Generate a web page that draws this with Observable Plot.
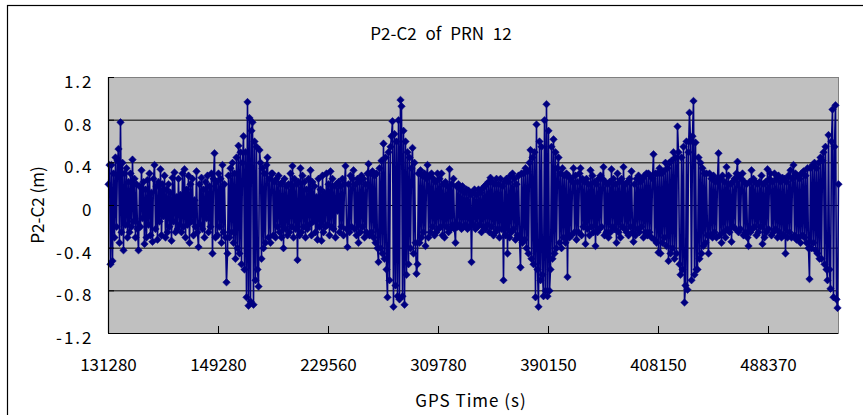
<!DOCTYPE html>
<html>
<head>
<meta charset="utf-8">
<script src="https://cdn.jsdelivr.net/npm/d3@7"></script>
<script src="https://cdn.jsdelivr.net/npm/@observablehq/plot@0.6"></script>
<style>
  html, body { margin: 0; padding: 0; background: #fff; }
</style>
</head>
<body>
<div id="chart"></div>
<script>
const chartTitle = "P2-C2 of PRN 12";
const yTitle = "P2-C2 (m)";
const xTitle = "GPS Time (s)";

const xLabels = ["131280", "149280", "229560", "309780", "390150", "408150", "488370"];
const labelEvery = 110; // category interval between x labels

const yTicks = [-1.2, -0.8, -0.4, 0, 0.4, 0.8, 1.2];
const yTickLabels = ["-1.2", "-0.8", "-0.4", "0", "0.4", "0.8", "1.2"];
const yGrid = [-0.8, -0.4, 0, 0.4, 0.8];

const p2c2 = [
  0.2, 0.38, -0.55, 0.38, -0.52, 0.3, -0.3, 0.45, -0.2, 0.42,
  0.53, -0.35, 0.78, -0.25, 0.4, -0.42, 0.3, -0.18, 0.35, -0.3,
  0.22, -0.25, 0.3, -0.2, 0.43, -0.15, 0.25, -0.3, 0.2, -0.22,
  -0.42, 0.18, -0.2, 0.33, -0.12, 0.22, -0.36, 0.15, -0.3, 0.24,
  -0.18, 0.3, -0.28, 0.12, -0.34, 0.25, 0.38, -0.22, 0.18, -0.32,
  0.22, -0.15, 0.34, -0.28, 0.2, -0.1, 0.28, -0.3, 0.15, -0.25,
  0.2, -0.2, 0.12, -0.33, 0.26, -0.15, 0.31, -0.25, 0.08, -0.22,
  0.25, -0.18, 0.1, -0.25, 0.3, -0.2, 0.34, -0.3, 0.15, -0.18,
  0.28, -0.35, 0.2, -0.15, 0.25, -0.28, 0.05, -0.2, 0.32, -0.25,
  -0.39, 0.2, -0.18, 0.26, -0.22, 0.15, -0.3, 0.22, -0.12, 0.28,
  -0.25, 0.18, -0.2, 0.3, -0.45, 0.25, 0.49, -0.3, 0.22, -0.28,
  0.3, -0.2, 0.25, -0.35, 0.38, -0.25, 0.2, -0.3, -0.72, -0.45,
  0.28, -0.3, 0.35, -0.25, 0.4, -0.35, 0.3, -0.5, 0.45, -0.4,
  0.56, -0.45, 0.5, -0.55, 0.4, 0.65, -0.6, 0.5, -0.86, 0.97,
  -0.94, 0.82, -0.9, 0.7, 0.78, -0.93, 0.6, -0.7, 0.55, -0.6,
  -0.76, 0.52, 0.4, -0.5, 0.35, -0.4, 0.3, -0.35, 0.38, 0.45,
  -0.3, 0.25, -0.35, 0.3, 0.3, -0.28, 0.22, -0.3, 0.25, -0.2,
  0.28, -0.25, 0.2, -0.3, 0.22, -0.4, 0.25, -0.22, 0.18, -0.28,
  0.2, -0.25, 0.3, -0.2, 0.37, -0.3, 0.25, -0.22, 0.2, -0.51,
  0.22, -0.28, 0.35, -0.25, 0.28, -0.2, 0.22, -0.3, 0.15, -0.22,
  0.25, -0.18, 0.33, -0.28, 0.22, -0.15, 0.18, -0.25, 0.08, -0.32,
  0.25, -0.2, 0.15, -0.33, 0.28, -0.25, 0.12, -0.2, 0.3, -0.18,
  0.2, -0.28, 0.32, -0.2, 0.25, -0.22, 0.18, -0.3, 0.2, -0.05,
  0.22, -0.25, 0.18, -0.2, 0.25, -0.28, 0.2, 0.37, -0.22, -0.39,
  0.2, -0.25, 0.28, -0.2, 0.25, 0.33, -0.22, 0.2, -0.28, 0.25,
  -0.35, 0.22, -0.25, 0.28, -0.2, 0.25, -0.3, 0.2, -0.25, 0.3,
  0.39, -0.28, 0.3, -0.25, 0.32, -0.3, 0.28, -0.35, 0.3, -0.4,
  -0.53, 0.35, -0.4, 0.42, -0.45, 0.58, -0.5, 0.45, -0.6, -0.86,
  0.5, -0.7, 0.55, 0.65, 0.79, -0.95, 0.67, -0.75, 0.6, -0.85,
  0.8, -0.88, 0.99, 0.93, -0.85, 0.7, -0.93, 0.6, -0.65, 0.5,
  -0.55, 0.45, -0.4, 0.35, 0.54, -0.45, 0.4, -0.35, -0.64, -0.55,
  0.3, -0.35, 0.33, -0.3, 0.28, -0.25, 0.3, -0.38, 0.25, 0.38,
  -0.3, 0.28, -0.25, 0.3, -0.2, 0.25, -0.28, 0.22, -0.25, 0.3,
  -0.22, 0.25, -0.2, 0.3, -0.28, 0.2, -0.3, 0.22, -0.2, 0.18,
  -0.25, 0.34, -0.22, 0.2, -0.18, 0.25, -0.22, -0.35, 0.18, -0.2,
  0.2, -0.18, 0.15, -0.22, 0.18, -0.2, 0.12, -0.18, 0.15, -0.22,
  0.14, -0.2, 0.1, -0.53, 0.12, -0.18, 0.15, -0.22, 0.1, -0.2,
  0.15, -0.18, 0.12, -0.25, 0.16, -0.2, 0.18, -0.22, 0.2, -0.18,
  0.22, -0.25, 0.26, -0.2, 0.22, -0.28, 0.2, -0.25, 0.25, -0.22,
  0.2, -0.3, 0.25, -0.22, 0.18, -0.7, 0.22, -0.28, 0.25, -0.45,
  0.22, -0.3, 0.28, -0.25, 0.3, -0.22, 0.25, -0.32, 0.2, -0.28,
  0.28, -0.3, -0.58, 0.3, -0.35, 0.3, -0.32, 0.35, -0.4, 0.32,
  -0.45, 0.4, 0.52, -0.5, 0.45, -0.55, 0.5, -0.86, 0.76, -0.6,
  -0.95, 0.6, -0.7, 0.55, -0.65, -0.85, 0.8, -0.8, 0.95, -0.85,
  0.7, -0.8, -0.6, 0.55, -0.5, 0.62, -0.45, 0.5, -0.4, 0.35,
  0.45, -0.35, 0.3, -0.4, 0.35, -0.3, 0.28, -0.35, 0.3, -0.67,
  0.28, -0.3, 0.25, -0.28, 0.22, 0.35, -0.25, 0.28, -0.32, 0.22,
  -0.25, 0.3, 0.35, -0.28, 0.25, -0.2, 0.22, -0.36, 0.25, -0.22,
  0.2, -0.28, 0.33, -0.2, 0.28, -0.25, 0.22, -0.38, 0.2, -0.25,
  0.25, -0.22, 0.28, -0.2, 0.25, 0.36, -0.28, 0.22, -0.25, 0.2,
  -0.3, 0.22, -0.25, 0.34, -0.2, 0.25, -0.22, 0.2, -0.35, 0.3,
  -0.25, 0.22, -0.3, 0.25, -0.2, 0.36, -0.22, 0.2, -0.25, 0.22,
  -0.28, 0.25, -0.2, 0.32, -0.25, -0.34, 0.2, -0.28, 0.25, -0.22,
  0.28, -0.25, 0.22, -0.2, 0.25, -0.3, 0.28, -0.25, 0.3, -0.28,
  0.3, -0.25, 0.28, -0.3, 0.25, 0.48, -0.32, 0.3, -0.35, 0.3,
  -0.44, 0.35, -0.45, 0.3, -0.35, 0.32, -0.3, 0.4, -0.38, 0.35,
  -0.52, 0.4, -0.45, 0.42, -0.4, 0.5, -0.5, 0.45, -0.45, 0.74,
  0.5, -0.55, -0.65, 0.45, -0.6, 0.55, -0.91, -0.75, 0.6, -0.79,
  0.5, 0.87, 0.6, -0.7, 0.65, 0.98, -0.65, 0.59, -0.6, -0.6,
  0.45, -0.5, 0.4, -0.45, 0.35, -0.38, 0.3, -0.35, 0.3, -0.28,
  -0.45, 0.3, -0.28, 0.25, -0.3, 0.28, -0.25, 0.22, -0.3, 0.25,
  0.49, -0.28, 0.25, -0.35, 0.28, -0.25, 0.22, -0.3, 0.36, -0.22,
  0.28, -0.25, 0.2, -0.34, 0.22, -0.2, 0.25, -0.22, 0.3, 0.41,
  -0.25, 0.28, -0.22, 0.25, 0.3, -0.28, 0.22, -0.25, 0.2, -0.3,
  -0.38, 0.22, -0.25, 0.33, -0.22, 0.25, -0.2, 0.22, -0.28, 0.2,
  -0.25, 0.22, -0.2, 0.28, -0.36, 0.2, -0.3, 0.22, -0.25, 0.34,
  -0.22, 0.25, 0.3, -0.28, 0.22, -0.25, 0.3, -0.22, 0.25, -0.3,
  0.28, -0.25, 0.22, -0.3, 0.26, -0.28, 0.25, -0.45, 0.22, -0.3,
  0.28, -0.25, 0.33, -0.3, 0.25, 0.38, -0.28, 0.3, -0.32, 0.28,
  -0.3, 0.25, -0.35, 0.3, -0.28, 0.32, -0.3, 0.28, -0.35, 0.35,
  -0.4, -0.69, 0.35, -0.4, 0.38, -0.35, 0.4, -0.42, 0.35, -0.45,
  0.4, -0.5, 0.45, -0.5, 0.42, 0.5, -0.55, 0.55, -0.6, -0.7,
  0.66, -0.6, -0.78, 0.6, 0.9, -0.86, 0.55, 0.94, -0.88, -0.96,
  0.2
];

// ---- build ----
const data = p2c2.map((v, i) => ({i, v}));
const lastIdx = p2c2.length - 1;
const xTickIdx = xLabels.map((_, k) => k * labelEvery);

const W = 863, H = 415;
const mL = 108, mR = 25, mT = 77, mB = 82;
const plotW = W - mL - mR, plotH = H - mT - mB;
const navy = "#000080";
const font = "'Noto Sans CJK SC', 'Noto Sans', sans-serif";

const chart = Plot.plot({
  width: W,
  height: H,
  marginLeft: mL,
  marginRight: mR,
  marginTop: mT,
  marginBottom: mB,
  style: {fontFamily: font, fontSize: "17px", color: "#000", background: "transparent"},
  x: {domain: [0, lastIdx], axis: null},
  y: {domain: [-1.2, 1.2], axis: null},
  marks: [
    Plot.frame({fill: "#c0c0c0", stroke: "#808080"}),
    Plot.ruleY(yGrid, {stroke: "#000", strokeWidth: 1}),
    Plot.line(data, {x: "i", y: "v", stroke: navy, strokeWidth: 1.6}),
    Plot.dot(data, {x: "i", y: "v", symbol: "diamond2", r: 3.4, fill: navy, stroke: navy, strokeWidth: 0.5}),
    // axis lines (left and bottom) and inward tick marks
    Plot.ruleX([0], {stroke: "#000", strokeWidth: 1.2}),
    Plot.ruleY([-1.2], {stroke: "#000", strokeWidth: 1.2}),
    Plot.ruleX(xTickIdx, {y1: 1.2, y2: -1.2, insetTop: plotH - 7, stroke: "#000"}),
    Plot.ruleY(yTicks, {x1: 0, x2: lastIdx, insetRight: plotW - 6, stroke: "#000"}),
    Plot.axisX(xTickIdx, {
      anchor: "bottom", label: null, tickSize: 0, tickPadding: 25,
      tickFormat: d => xLabels[xTickIdx.indexOf(d)], fontSize: 17
    }),
    Plot.axisY(yTicks, {
      anchor: "left", label: null, tickSize: 0, tickPadding: 15, dy: 5,
      tickFormat: d => yTickLabels[yTicks.indexOf(d)], fontSize: 17
    })
  ]
});

const svg = d3.select(chart);
// wider punctuation spacing on the y tick labels, as in the reference
svg.selectAll("text")
  .filter(function () { return yTickLabels.includes(this.textContent); })
  .style("letter-spacing", "2px");

// chart-area border (runs past the right and bottom of the window, as in the reference)
svg.insert("rect", ":first-child")
  .attr("x", 7.5).attr("y", 5.5).attr("width", W + 20).attr("height", H + 20)
  .attr("fill", "#fff").attr("stroke", "#000").attr("stroke-width", 1.2);

svg.append("text")
  .attr("x", 441).attr("y", 40)
  .attr("text-anchor", "middle")
  .style("font-family", font).style("font-size", "17px").style("word-spacing", "5px")
  .attr("fill", "#000")
  .text(chartTitle);

svg.append("text")
  .attr("transform", "translate(44,205) rotate(-90)")
  .attr("text-anchor", "middle")
  .style("font-family", font).style("font-size", "17px")
  .attr("fill", "#000")
  .text(yTitle);

svg.append("text")
  .attr("x", 471).attr("y", 407)
  .attr("text-anchor", "middle")
  .style("font-family", font).style("font-size", "17px").style("letter-spacing", "1px")
  .attr("fill", "#000")
  .text(xTitle);

document.getElementById("chart").appendChild(chart);
</script>
</body>
</html>
